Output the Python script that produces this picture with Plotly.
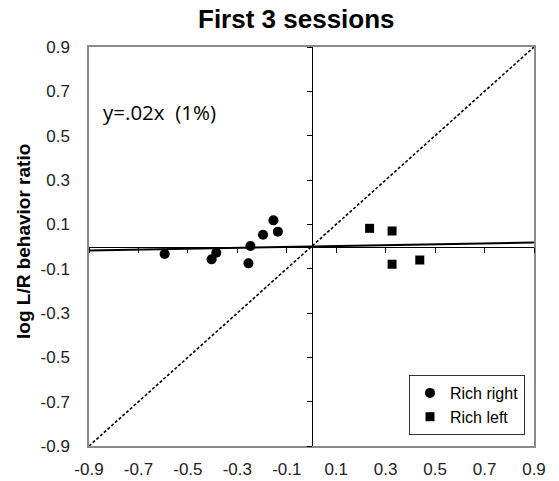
import plotly.graph_objects as go

# Data
rich_right_x = [-0.594, -0.404, -0.385, -0.255, -0.247, -0.196, -0.154, -0.136]
rich_right_y = [-0.034, -0.058, -0.028, -0.076, 0.002, 0.053, 0.118, 0.067]
rich_left_x = [0.235, 0.326, 0.326, 0.438]
rich_left_y = [0.082, 0.070, -0.080, -0.061]
slope = 0.02
line_x = [-0.9, 0.9]
diag = [-0.9, 0.9]
tick_vals = [-0.9, -0.7, -0.5, -0.3, -0.1, 0.1, 0.3, 0.5, 0.7, 0.9]
tick_text = ["-0.9", "-0.7", "-0.5", "-0.3", "-0.1", "0.1", "0.3", "0.5", "0.7", "0.9"]
rng = [-0.9, 0.9]

fig = go.Figure()
fig.add_trace(go.Scatter(x=diag, y=diag, mode="lines", xaxis="x2", yaxis="y2",
                         line=dict(color="black", width=1.6, dash="3px,2px"),
                         showlegend=False, hoverinfo="skip"))
fig.add_trace(go.Scatter(x=line_x, y=[slope * v for v in line_x], mode="lines",
                         line=dict(color="black", width=2), showlegend=False))
fig.add_trace(go.Scatter(x=rich_right_x, y=rich_right_y, mode="markers", name="Rich right",
                         legendgroup="a",
                         marker=dict(symbol="circle", size=10, color="black")))
fig.add_trace(go.Scatter(x=rich_left_x, y=rich_left_y, mode="markers", name="Rich left",
                         legendgroup="b",
                         marker=dict(symbol="square", size=9, color="black")))

tickfont = dict(family="Liberation Sans, Arial", size=17, color="#222")
fig.update_layout(
    width=559, height=481,
    margin=dict(l=89, r=25, t=47, b=35, autoexpand=False),
    paper_bgcolor="white", plot_bgcolor="white",
    showlegend=True,
    legend=dict(x=(409 - 89) / 445, y=(446 - 375) / 399, xanchor="left", yanchor="top",
                bgcolor="white", bordercolor="#333", borderwidth=1,
                font=dict(family="Liberation Sans, Arial", size=16, color="black"),
                itemwidth=30, traceorder="grouped", tracegroupgap=0),
    xaxis=dict(range=rng, tickvals=tick_vals, ticktext=tick_text, ticks="",
               showgrid=False, zeroline=False, showline=True, mirror=True,
               linecolor="#8a8a8a", linewidth=1.5, tickfont=tickfont,
               ticklabelstandoff=7, automargin=False),
    yaxis=dict(range=rng, tickvals=tick_vals, ticktext=tick_text, ticks="",
               showgrid=False, zeroline=False, showline=True, mirror=True,
               linecolor="#8a8a8a", linewidth=1.5, tickfont=tickfont,
               ticklabelstandoff=14, automargin=False),
    xaxis2=dict(range=rng, overlaying="x", anchor="free", position=0.5,
                tickvals=tick_vals, ticks="outside", ticklen=5, tickcolor="black",
                showticklabels=False, showgrid=False, zeroline=False,
                showline=True, linecolor="black", linewidth=1, automargin=False),
    yaxis2=dict(range=rng, overlaying="y", anchor="free", position=0.5,
                tickvals=tick_vals, ticks="outside", ticklen=5, tickcolor="black",
                showticklabels=False, showgrid=False, zeroline=False,
                showline=True, linecolor="black", linewidth=1, automargin=False),
    annotations=[
        dict(text="<b>First 3 sessions</b>", xref="paper", yref="paper",
             x=(296 - 89) / 445, y=(446 - 19) / 399, xanchor="center", yanchor="middle",
             showarrow=False, font=dict(family="Liberation Sans, Arial", size=26, color="black")),
        dict(text="<b>log L/R behavior ratio</b>", xref="paper", yref="paper",
             x=(23 - 89) / 445, y=(446 - 242) / 399, xanchor="center", yanchor="middle",
             textangle=-90, showarrow=False,
             font=dict(family="Liberation Sans, Arial", size=19, color="black")),
        dict(text="y=.02x  (1%)", xref="paper", yref="paper",
             x=(101 - 89) / 445, y=(446 - 112) / 399, xanchor="left", yanchor="middle",
             showarrow=False, font=dict(family="Open Sans", size=20.5, color="black")),
    ],
)

fig.write_html("out.html")
